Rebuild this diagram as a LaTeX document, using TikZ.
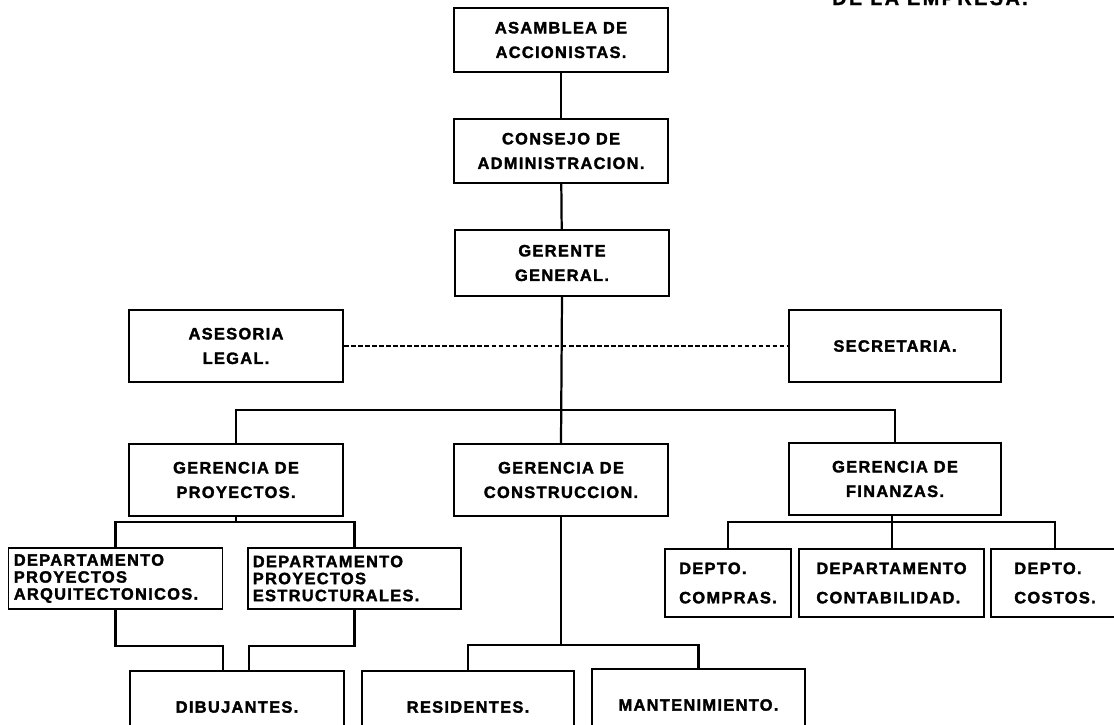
\documentclass[tikz,border=0pt]{standalone}
\usepackage{fontspec}
\setmainfont{Liberation Sans}
\newfontfamily\letrero[LetterSpace=8, FakeBold=2]{Liberation Sans Bold}
\newfontfamily\rotulo[LetterSpace=12, FakeBold=1.5]{Liberation Sans Bold}
\usetikzlibrary{positioning}

\begin{document}
\begin{tikzpicture}[x=0.03cm, y=-0.03cm, line width=1.5pt,
    caja/.style={draw, minimum width=6.42cm, minimum height=2.16cm, inner sep=2pt, align=center,
      font=\letrero\fontsize{14}{21}\selectfont},
    depto/.style={caja, minimum height=1.83cm, text width=6.1cm, align=left,
      font=\letrero\fontsize{14}{14.5}\selectfont},
    chica/.style={caja, minimum height=2.04cm, align=left,
      font=\letrero\fontsize{14}{25}\selectfont},
    linea/.style={line width=1.9pt}
  ]
  \useasboundingbox (0,0) rectangle (1114,725);

  \node [anchor=base, font=\rotulo\fontsize{17}{17}\selectfont] (empresa) at (930,5) {DE LA EMPRESA.};

  \node [caja, minimum height=1.92cm] (asamblea) at (561,40) {ASAMBLEA DE\\ACCIONISTAS.};
  \node [caja, minimum height=1.9cm] (consejo) at (561,151) {CONSEJO DE\\ADMINISTRACION.};
  \node [caja, minimum height=1.98cm] (gerente) at (562,263) {GERENTE\\GENERAL.};

  \node [caja] (asesoria) at (236,346) {ASESORIA\\LEGAL.};
  \node [caja, minimum width=6.36cm] (secretaria) at (895,346) {SECRETARIA.};

  \node [caja] (proyectos) at (236,480) {GERENCIA DE\\PROYECTOS.};
  \node [caja] (construccion) at (561,480) {GERENCIA DE\\CONSTRUCCION.};
  \node [caja, minimum width=6.36cm] (finanzas) at (895,479) {GERENCIA DE\\FINANZAS.};

  \node [depto] (arquitectonicos) at (115.5,578.5) {DEPARTAMENTO\\PROYECTOS\\ARQUITECTONICOS.};
  \node [depto, minimum width=6.39cm] (estructurales) at (354.5,578.5) {DEPARTAMENTO\\PROYECTOS\\ESTRUCTURALES.};

  \node [chica, minimum width=3.78cm] (compras) at (728,583) {DEPTO.\\COMPRAS.};
  \node [chica, minimum width=5.55cm] (contabilidad) at (891.5,583) {DEPARTAMENTO\\CONTABILIDAD.};
  \node [chica, minimum width=3.84cm] (costos) at (1055,583) {DEPTO.\\COSTOS.};

  \node [caja] (dibujantes) at (237,707) {DIBUJANTES.};
  \node [caja, minimum width=6.36cm] (residentes) at (468,707) {RESIDENTES.};
  \node [caja, minimum width=6.39cm] (mantenimiento) at (698.5,705) {MANTENIMIENTO.};

  % lineas de mando
  \coordinate (busA) at (561,410);
  \coordinate (busB) at (236,522);
  \coordinate (busC) at (892,522);
  \coordinate (busD) at (561,645);
  \coordinate (dibL) at (223,646);
  \coordinate (dibR) at (249,646);

  \draw [linea] (asamblea) -- (consejo);
  \draw [linea] (consejo) -- (gerente);
  \draw [linea] (gerente.south) -- (construccion.north);
  \draw [linea] (proyectos.north) |- (busA) -| (finanzas.north);
  \draw [linea, dashed, dash pattern=on 4pt off 2pt] (asesoria.east) -- (secretaria.west);

  \draw [linea] (proyectos.south) -- (busB);
  \draw [linea] (arquitectonicos.north) |- (busB) -| (estructurales.north);

  \draw [linea] (busC |- finanzas.south) -- (busC) -- (busC |- contabilidad.north);
  \draw [linea] (compras.north) |- (busC) -| (costos.north);

  \draw [linea] (arquitectonicos.south) |- (dibL) -- (dibL |- dibujantes.north);
  \draw [linea] (estructurales.south) |- (dibR) -- (dibR |- dibujantes.north);

  \draw [linea] (construccion.south) -- (busD);
  \draw [linea] (residentes.north) |- (busD) -| (mantenimiento.north);
\end{tikzpicture}
\end{document}
